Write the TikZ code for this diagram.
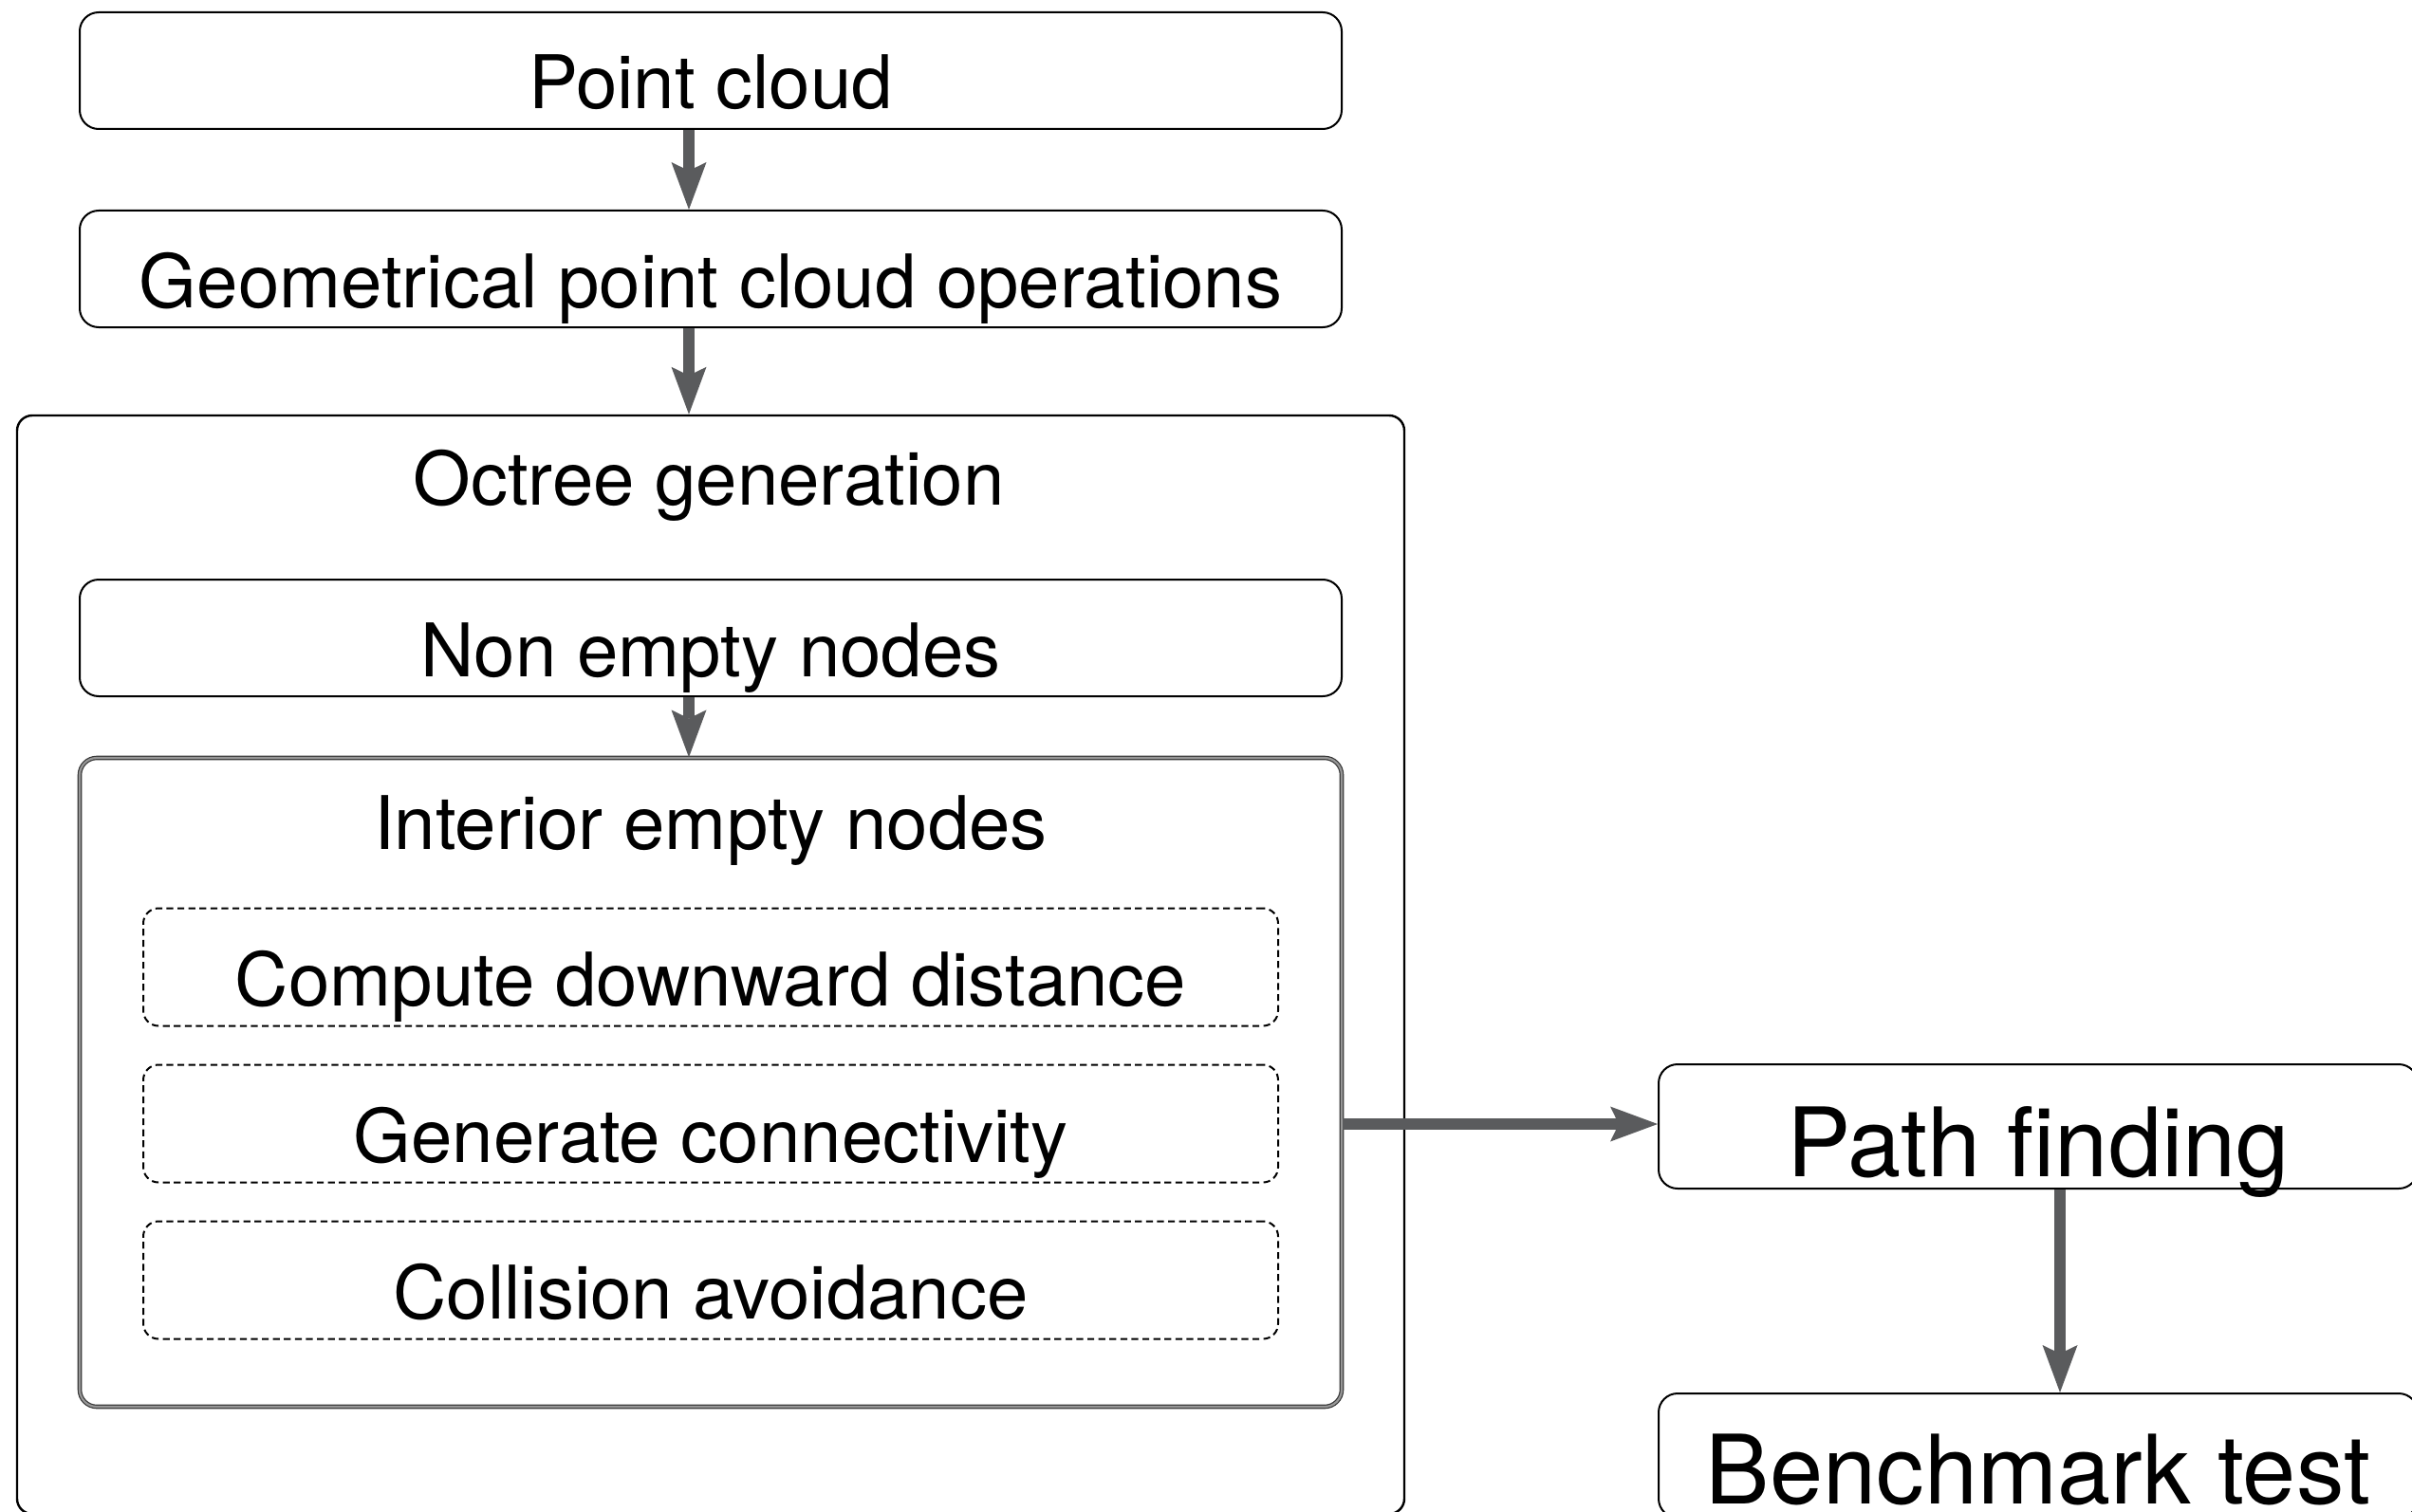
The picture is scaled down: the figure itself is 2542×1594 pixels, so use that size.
\documentclass[tikz,border=0pt]{standalone}
\usepackage{fontspec}
\setmainfont{TeX Gyre Heros}
\usetikzlibrary{arrows.meta}
\definecolor{arrowgray}{RGB}{90,91,93}
\definecolor{framedark}{RGB}{55,55,55}
\definecolor{framemid}{RGB}{150,150,150}

\begin{document}
\begin{tikzpicture}[x=0.5pt,y=-0.5pt,
  stagebox/.style={draw=black, line width=1pt, rounded corners=10pt, inner sep=0pt,
    minimum width=665pt, minimum height=61.5pt,
    font=\fontsize{39}{40}\selectfont, text height=40.5pt, text depth=0pt},
  subbox/.style={draw=black, line width=1pt, dash pattern=on 3.6pt off 2.2pt,
    rounded corners=8pt, inner sep=0pt, minimum width=598pt, minimum height=62pt,
    font=\fontsize{39}{40}\selectfont, text height=41pt, text depth=0pt},
  bigbox/.style={draw=black, line width=1pt, rounded corners=10pt, inner sep=0pt,
    minimum width=400pt, minimum height=65.5pt, font=\fontsize{50.5}{52}\selectfont, text depth=0pt},
  title/.style={anchor=base, inner sep=0pt, font=\fontsize{39}{40}\selectfont},
  flow/.style={draw=arrowgray, line width=6.25pt,
    -{Stealth[length=25pt, width=18.5pt, inset=4.5pt, line width=0pt]}}
]
\useasboundingbox (0,0) rectangle (2542,1594);
\clip (0,0) rectangle (2542,1594);

% pipeline stages on the left
\node[stagebox] (pc)  at (749,74.5)  {Point cloud};
\node[stagebox] (geo) at (749,283.5) {Geometrical point cloud operations};

% octree container
\node[draw=black, line width=1.2pt, rounded corners=8pt, inner sep=0pt,
      minimum width=731pt, minimum height=579pt] (octree) at (749,1017) {};
\node[title] (octitle) at (747,532) {Octree generation};

\node[stagebox] (nonempty) at (749,672.5) {Non empty nodes};

% interior empty nodes group (triple-line frame)
\node[draw=framedark, line width=0.6pt, double=framemid, double distance=1.1pt,
      rounded corners=9pt, inner sep=0pt, minimum width=665pt, minimum height=342pt]
      (interior) at (749,1141) {};
\node[title] (intitle) at (749,895) {Interior empty nodes};

\node[subbox] (dist)  at (749,1019.5) {Compute downward distance};
\node[subbox] (conn)  at (749,1184.5) {Generate connectivity};
\node[subbox] (coll)  at (749,1349.5) {Collision avoidance};

% right-hand stages
\node[bigbox, text height=52.5pt] (path)  at (2148,1187.5) {Path finding};
\node[bigbox, text height=50.5pt] (bench) at (2148,1534.5) {Benchmark test};

% connectors
\coordinate (ax) at (726,0);
\coordinate (bx) at (2171,0);
\draw[flow] (pc.south -| ax) -- (geo.north -| ax);
\draw[flow] (geo.south -| ax) -- (octree.north -| ax);
\draw[flow] (nonempty.south -| ax) -- (interior.north -| ax);
\draw[flow] (interior.east |- 0,1185) -- (path.west |- 0,1185);
\draw[flow] (path.south -| bx) -- (bench.north -| bx);
\end{tikzpicture}
\end{document}
